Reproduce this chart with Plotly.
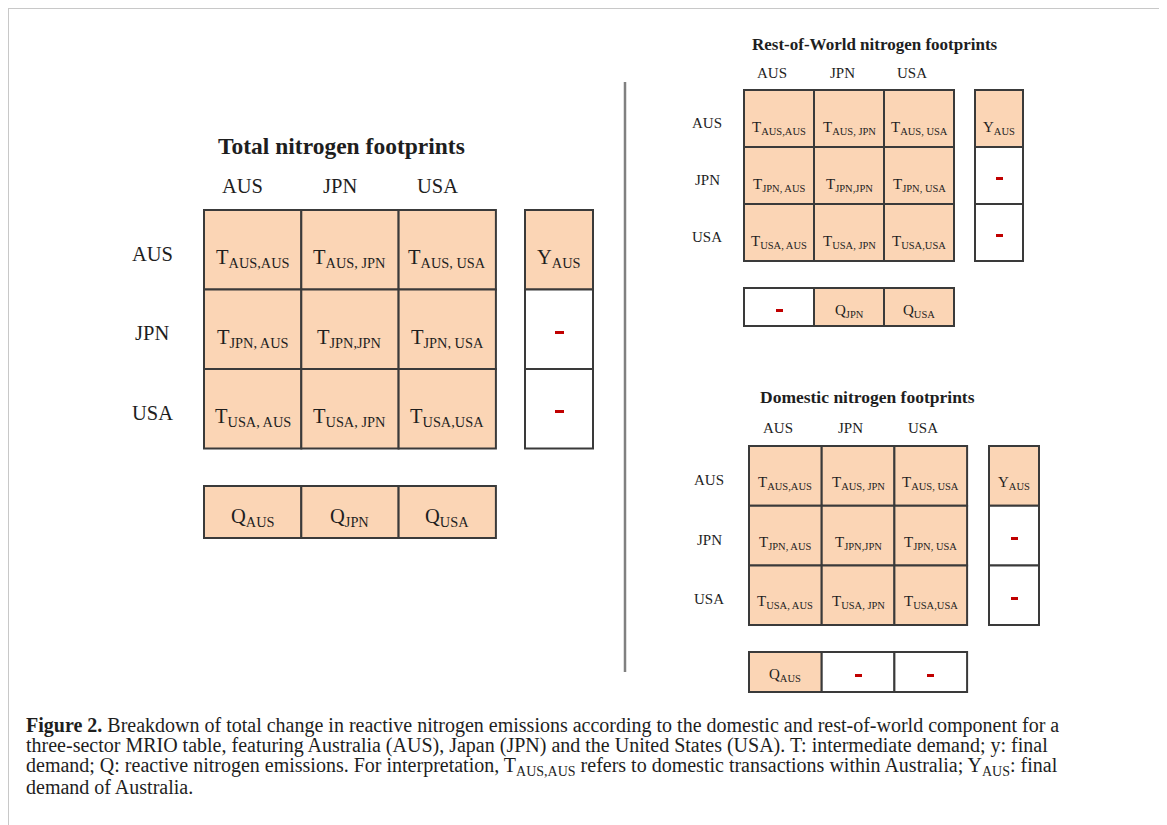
import plotly.graph_objects as go

# row / column countries of the MRIO table
countries = ["AUS", "JPN", "USA"]

# intermediate demand labels (same in all three tables)
t_labels = [
    ["T<sub>AUS,AUS</sub>", "T<sub>AUS, JPN</sub>", "T<sub>AUS, USA</sub>"],
    ["T<sub>JPN, AUS</sub>", "T<sub>JPN,JPN</sub>", "T<sub>JPN, USA</sub>"],
    ["T<sub>USA, AUS</sub>", "T<sub>USA, JPN</sub>", "T<sub>USA,USA</sub>"],
]

# final demand column ("-" = excluded cell)
y_labels = ["Y<sub>AUS</sub>", "-", "-"]

# emission rows for each table
q_total = ["Q<sub>AUS</sub>", "Q<sub>JPN</sub>", "Q<sub>USA</sub>"]
q_rest = ["-", "Q<sub>JPN</sub>", "Q<sub>USA</sub>"]
q_dom = ["Q<sub>AUS</sub>", "-", "-"]

titles = ["Total nitrogen footprints",
          "Rest-of-World nitrogen footprints",
          "Domestic nitrogen footprints"]

caption = [
    "<b>Figure 2.</b> Breakdown of total change in reactive nitrogen emissions according to the domestic and rest-of-world component for a",
    "three-sector MRIO table, featuring Australia (AUS), Japan (JPN) and the United States (USA). T: intermediate demand; y: final",
    "demand; Q: reactive nitrogen emissions. For interpretation, T<sub>AUS,AUS</sub> refers to domestic transactions within Australia; Y<sub>AUS</sub>: final",
    "demand of Australia.",
]

PEACH = "#fbd5b5"
EDGE = "#3a3a3a"
RED = "#c00000"
INK = "#1e1e1e"
FONT = "Liberation Serif"

# layout of the three panels (pixel positions on the page)
panels = [
    dict(title=titles[0], q=q_total, x0=204, y0=210, cw=97.3, rh=79.5,
         yx=525, yw=68, qy=486, qh=52, fs=20.5, tfs=23.5, hy=186, lx=152, ty=146, tx=341,
         dy=9, qdy=5, dash=9),
    dict(title=titles[1], q=q_rest, x0=744, y0=90, cw=70, rh=57,
         yx=975, yw=48, qy=288, qh=38, fs=15, tfs=17, hy=73, lx=707, ty=44, tx=875,
         dy=9, qdy=4, dash=7),
    dict(title=titles[2], q=q_dom, x0=749, y0=446, cw=72.7, rh=59.7,
         yx=989, yw=50, qy=652, qh=40, fs=15, tfs=17.5, hy=428, lx=709, ty=397, tx=867,
         dy=7, qdy=3, dash=7),
]

fig = go.Figure()
shapes = []
notes = []


def add_cell(x0, y0, x1, y1, label, p, dy):
    filled = label != "-"
    shapes.append(dict(type="rect", xref="x", yref="y", x0=x0, x1=x1, y0=y0, y1=y1,
                       fillcolor=PEACH if filled else "white",
                       line=dict(color=EDGE, width=2), layer="below"))
    if filled:
        notes.append(dict(x=(x0 + x1) / 2, y=(y0 + y1) / 2 + dy, text=label,
                          showarrow=False, font=dict(family=FONT, size=p["fs"], color=INK)))
    else:
        # small red dash marking an excluded cell
        notes.append(dict(x=(x0 + x1) / 2, y=(y0 + y1) / 2 + 3, text="&nbsp;",
                          showarrow=False, font=dict(size=1), bgcolor=RED,
                          width=p["dash"], height=3, borderpad=0, borderwidth=0))


for p in panels:
    cw, rh, fs = p["cw"], p["rh"], p["fs"]
    notes.append(dict(x=p["tx"], y=p["ty"], text="<b>" + p["title"] + "</b>", showarrow=False,
                      font=dict(family=FONT, size=p["tfs"], color=INK)))
    for j, c in enumerate(countries):
        notes.append(dict(x=p["x0"] + (j + 0.4) * cw, y=p["hy"], text=c, showarrow=False,
                          font=dict(family=FONT, size=fs, color=INK)))
    for i, r in enumerate(countries):
        notes.append(dict(x=p["lx"], y=p["y0"] + (i + 0.5) * rh + 4, text=r, showarrow=False,
                          font=dict(family=FONT, size=fs, color=INK)))
        for j in range(3):
            add_cell(p["x0"] + j * cw, p["y0"] + i * rh,
                     p["x0"] + (j + 1) * cw, p["y0"] + (i + 1) * rh, t_labels[i][j], p, p["dy"])
        add_cell(p["yx"], p["y0"] + i * rh, p["yx"] + p["yw"], p["y0"] + (i + 1) * rh,
                 y_labels[i], p, p["dy"])
    for j in range(3):
        add_cell(p["x0"] + j * cw, p["qy"], p["x0"] + (j + 1) * cw, p["qy"] + p["qh"],
                 p["q"][j], p, p["qdy"])

# divider between total and component tables
shapes.append(dict(type="line", xref="x", yref="y", x0=625, x1=625, y0=82, y1=672,
                   line=dict(color="#808080", width=2.5)))
# outer frame (open at the bottom)
shapes.append(dict(type="path", xref="x", yref="y", path="M 8 830 L 8 8 L 1164 8 L 1164 830",
                   line=dict(color="#c8c8c8", width=2)))

for k, line in enumerate(caption):
    notes.append(dict(x=24, y=725 + k * 20.8, text=line, showarrow=False, xanchor="left",
                      font=dict(family=FONT, size=20, color=INK)))

# the page body adds an 8px margin, so the axes start at page pixel 8
fig.update_layout(
    width=1159, height=817,
    margin=dict(l=0, r=0, t=0, b=0),
    paper_bgcolor="white", plot_bgcolor="white",
    xaxis=dict(range=[8, 1167], visible=False, fixedrange=True),
    yaxis=dict(range=[825, 8], visible=False, fixedrange=True),
    shapes=shapes, annotations=notes, showlegend=False,
)

fig.write_html("out.html")
